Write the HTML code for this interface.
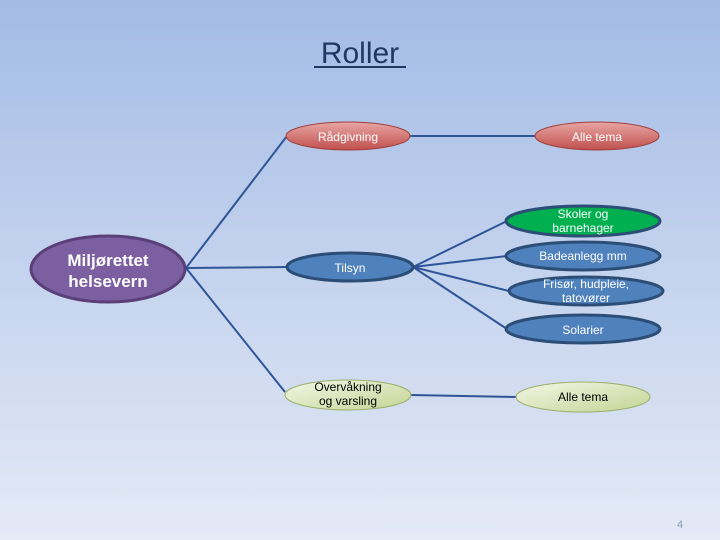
<!DOCTYPE html>
<html><head><meta charset="utf-8"><style>
html,body{margin:0;padding:0;width:720px;height:540px;overflow:hidden}
body{background:linear-gradient(#a3bbe5,#c4d3ee 50%,#e4eaf6);font-family:"Liberation Sans",sans-serif}
svg{display:block}
</style></head><body>
<svg width="720" height="540" viewBox="0 0 720 540" xmlns="http://www.w3.org/2000/svg" font-family="Liberation Sans, sans-serif">
<defs>
<linearGradient id="r" x1="0" y1="0" x2="0" y2="1"><stop offset="0" stop-color="#e8a6a4"/><stop offset="1" stop-color="#c0504d"/></linearGradient>
<linearGradient id="g" x1="0" y1="0" x2="1" y2="1"><stop offset="0" stop-color="#f4f7e6"/><stop offset="1" stop-color="#c3d495"/></linearGradient>
</defs>
<text x="360" y="63" text-anchor="middle" font-size="30" fill="#1f3864">Roller</text>
<line x1="314" y1="67" x2="406" y2="67" stroke="#1f3864" stroke-width="2"/>
<g stroke="#2f5597" stroke-width="2" fill="none">
<line x1="186" y1="268" x2="287" y2="136"/>
<line x1="186" y1="268" x2="288" y2="267"/>
<line x1="186" y1="268" x2="285" y2="392"/>
<line x1="410" y1="136" x2="535" y2="136"/>
<line x1="413" y1="267" x2="507" y2="221"/>
<line x1="413" y1="267" x2="507" y2="256"/>
<line x1="413" y1="267" x2="509" y2="291"/>
<line x1="413" y1="267" x2="507" y2="329"/>
<line x1="411" y1="395" x2="516" y2="397"/>
</g>
<ellipse cx="108" cy="269" rx="77" ry="33" fill="#7b5fa0" stroke="#5a3f78" stroke-width="3"/>
<text x="108" y="266" text-anchor="middle" font-size="17" font-weight="bold" fill="#fff">Miljørettet</text>
<text x="108" y="287" text-anchor="middle" font-size="17" font-weight="bold" fill="#fff">helsevern</text>
<ellipse cx="348" cy="136" rx="62" ry="14" fill="url(#r)" stroke="#a0403d"/>
<text x="348" y="141" text-anchor="middle" font-size="12" fill="#fff">Rådgivning</text>
<ellipse cx="597" cy="136" rx="62" ry="14" fill="url(#r)" stroke="#a0403d"/>
<text x="597" y="141" text-anchor="middle" font-size="12" fill="#fff">Alle tema</text>
<g stroke="#2c4d75" stroke-width="3">
<ellipse cx="350" cy="267" rx="63" ry="14" fill="#4f81bd"/>
<ellipse cx="583" cy="221" rx="77" ry="15" fill="#00b050"/>
<ellipse cx="583" cy="256" rx="77" ry="14" fill="#4f81bd"/>
<ellipse cx="586" cy="291" rx="77" ry="14" fill="#4f81bd"/>
<ellipse cx="583" cy="329" rx="77" ry="14" fill="#4f81bd"/>
</g>
<g fill="#fff" font-size="12" text-anchor="middle">
<text x="350" y="272">Tilsyn</text>
<text x="583" y="218">Skoler og</text>
<text x="583" y="232">barnehager</text>
<text x="583" y="260">Badeanlegg mm</text>
<text x="586" y="288">Frisør, hudpleie,</text>
<text x="586" y="302">tatovører</text>
<text x="583" y="334">Solarier</text>
</g>
<ellipse cx="348" cy="395" rx="63" ry="15" fill="url(#g)" stroke="#9bb06a"/>
<ellipse cx="583" cy="397" rx="67" ry="15" fill="url(#g)" stroke="#9bb06a"/>
<g fill="#000" font-size="12" text-anchor="middle">
<text x="348" y="391">Overvåkning</text>
<text x="348" y="405">og varsling</text>
<text x="583" y="401">Alle tema</text>
</g>
<text x="680" y="528" text-anchor="middle" font-size="11" fill="#8a9ab8">4</text>
</svg>
</body></html>
